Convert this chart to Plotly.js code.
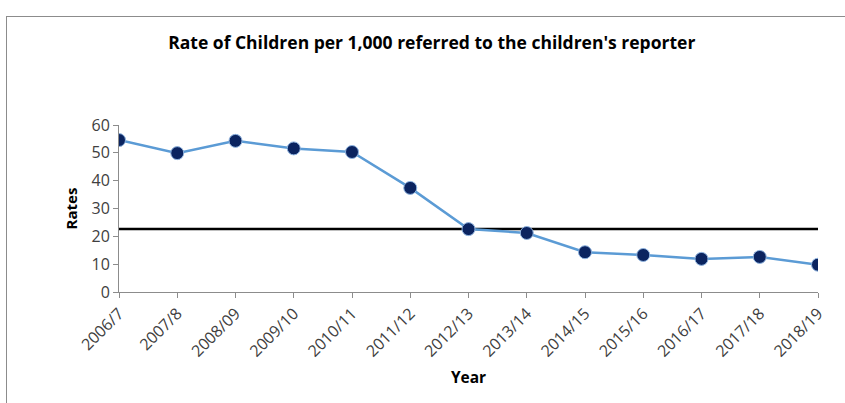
<!DOCTYPE html>
<html>
<head>
<meta charset="utf-8">
<script src="https://cdn.plot.ly/plotly-3.0.1.min.js"></script>
<style>
  html, body { margin: 0; padding: 0; background: #fff; }
  #frame { position: absolute; left: 6px; top: 16px; width: 850px; height: 400px; border: 1px solid #8c8c8c; box-sizing: border-box; }
  #chart { position: absolute; left: 0; top: 0; width: 845px; height: 403px; }
</style>
</head>
<body>
<div id="frame"></div>
<div id="chart"></div>
<script>
const years = ["2006/7","2007/8","2008/09","2009/10","2010/11","2011/12","2012/13","2013/14","2014/15","2015/16","2016/17","2017/18","2018/19"];
const rates = [54.6, 49.9, 54.3, 51.6, 50.3, 37.4, 22.6, 21.2, 14.3, 13.3, 11.9, 12.6, 9.8];
const reference = [22.6, 22.6, 22.6, 22.6, 22.6, 22.6, 22.6, 22.6, 22.6, 22.6, 22.6, 22.6, 22.6];
const yTicks = [0, 10, 20, 30, 40, 50, 60];

const font = "Open Sans, Noto Sans, sans-serif";

const traces = [
  {
    x: years, y: reference, type: "scatter", mode: "lines",
    line: { color: "#000000", width: 2.5 },
    hoverinfo: "skip", showlegend: false
  },
  {
    x: years, y: rates, type: "scatter", mode: "lines+markers",
    line: { color: "#5B9BD5", width: 2.5 },
    marker: { color: "#0B2460", size: 13, line: { color: "#8FB4E0", width: 1 } },
    showlegend: false
  }
];

const layout = {
  width: 845, height: 403,
  margin: { l: 119, r: 27, t: 125, b: 111 },
  paper_bgcolor: "rgba(0,0,0,0)",
  plot_bgcolor: "rgba(0,0,0,0)",
  font: { family: font, color: "#404040", size: 15 },
  title: {
    text: "<b>Rate of Children per 1,000 referred to the children's reporter</b>",
    font: { family: font, size: 17.5, color: "#000000" },
    x: 0.511, xanchor: "center", y: 0.893, yanchor: "middle"
  },
  xaxis: {
    type: "category",
    range: [0, 12],
    tickangle: -45,
    ticks: "outside", ticklen: 5, tickcolor: "#8c8c8c",
    showline: true, linecolor: "#8c8c8c", linewidth: 1,
    showgrid: false, zeroline: false,
    tickfont: { family: font, size: 16, color: "#404040" },
    title: { text: "<b>Year</b>", font: { family: font, size: 15.5, color: "#000000" }, standoff: 11 }
  },
  yaxis: {
    range: [0, 60],
    tickvals: yTicks,
    ticks: "outside", ticklen: 5, tickcolor: "#8c8c8c",
    showline: true, linecolor: "#8c8c8c", linewidth: 1,
    showgrid: false, zeroline: false,
    tickfont: { family: font, size: 16, color: "#404040" },
    title: { text: "<b>Rates</b>", font: { family: font, size: 15, color: "#000000" }, standoff: 10 }
  }
};

Plotly.newPlot("chart", traces, layout, { displayModeBar: false, staticPlot: true });
</script>
</body>
</html>
